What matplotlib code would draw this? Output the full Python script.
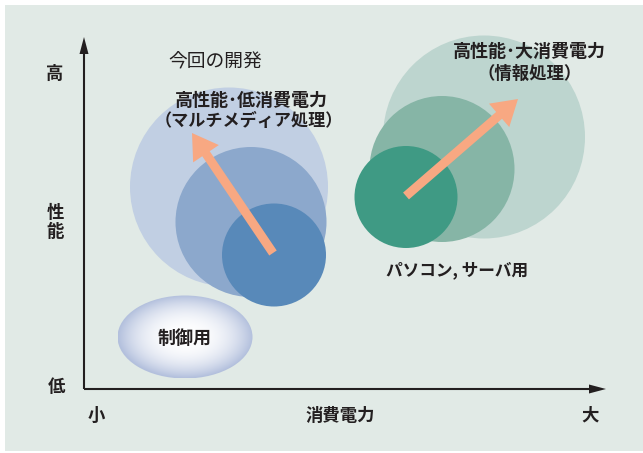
import numpy as np
import matplotlib
matplotlib.use("Agg")
import matplotlib.pyplot as plt
from matplotlib.patches import Ellipse, FancyArrow, Rectangle

plt.rcParams['font.family'] = ['Noto Sans CJK JP', 'DejaVu Sans']

# ---- data (pixel-space diagram) ----
blue_centers = [(229, 187), (251, 222), (274, 255)]
blue_sizes = [(198, 199), (151, 150), (104, 103)]
blue_colors = ['#C1CFE3', '#8CA8CC', '#5889B9']

green_centers = [(484, 137), (442, 169), (406, 197)]
green_sizes = [(202, 203), (145, 146), (103, 102)]
green_colors = ['#BDD5CF', '#86B5A6', '#3F9A84']

ctrl_center = (185, 337)
ctrl_size = (135, 83)

arrow_blue = [(273, 253), (192, 133)]
arrow_green = [(406, 196), (518, 99)]
arrow_color = '#F8A882'

labels = [
    ("高", 55, 74, 'bold', 12.5),
    ("性", 55, 213, 'bold', 12.5),
    ("能", 55, 232, 'bold', 12.5),
    ("低", 56, 387, 'bold', 12.5),
    ("小", 96, 416, 'bold', 12.5),
    ("消費電力", 340, 416, 'bold', 12.5),
    ("大", 590, 416, 'bold', 12.5),
    ("今回の開発", 215, 62, 'normal', 13.5),
    ("高性能･低消費電力", 251, 100, 'bold', 13),
    ("（マルチメディア処理）", 249, 121, 'bold', 12.3),
    ("高性能･大消費電力", 529, 51, 'bold', 13),
    ("（情報処理）", 530, 74, 'bold', 12.5),
    ("パソコン, サーバ用", 457, 270, 'bold', 12),
    ("制御用", 185, 338, 'bold', 13),
]

W, H = 643, 453
fig = plt.figure(figsize=(W / 100, H / 100), dpi=100)
ax = fig.add_axes([0, 0, 1, 1])
ax.set_xlim(0, W)
ax.set_ylim(H, 0)
ax.axis('off')

ax.add_patch(Rectangle((5, 5), W - 5, H - 7, facecolor='#E1EAE6', edgecolor='none', zorder=0))

for (c, s, col) in zip(blue_centers, blue_sizes, blue_colors):
    ax.add_patch(Ellipse(c, s[0], s[1], facecolor=col, edgecolor='none', zorder=2))
for (c, s, col) in zip(green_centers, green_sizes, green_colors):
    ax.add_patch(Ellipse(c, s[0], s[1], facecolor=col, edgecolor='none', zorder=2))

# radial gradient ellipse
cx, cy = ctrl_center
ew, eh = ctrl_size
xs = np.linspace(cx - ew / 2, cx + ew / 2, 200)
ys = np.linspace(cy - eh / 2, cy + eh / 2, 150)
X, Y = np.meshgrid(xs, ys)
r = np.sqrt(((X - cx) / (ew / 2)) ** 2 + ((Y - cy) / (eh / 2)) ** 2)
r = np.clip(r, 0, 1)
t = r ** 2.4
edge = np.array([0xB3, 0xC0, 0xDD]) / 255.0
img = np.ones((len(ys), len(xs), 3)) * (1 - t[..., None]) + edge * t[..., None]
el = Ellipse(ctrl_center, ew, eh, facecolor='none', edgecolor='none')
ax.add_patch(el)
im = ax.imshow(img, extent=(xs[0], xs[-1], ys[-1], ys[0]), zorder=2, interpolation='bilinear')
im.set_clip_path(el)
ax.set_xlim(0, W)
ax.set_ylim(H, 0)

for a in (arrow_blue, arrow_green):
    (x0, y0), (x1, y1) = a
    ax.add_patch(FancyArrow(x0, y0, x1 - x0, y1 - y0, width=9, head_width=31,
                            head_length=25, length_includes_head=True,
                            facecolor=arrow_color, edgecolor='none', zorder=4))

# axes arrows
ax.plot([84, 84], [389, 50], color='#231F20', lw=1.5, zorder=5, solid_capstyle='butt')
ax.plot([84, 594], [389, 389], color='#231F20', lw=1.5, zorder=5, solid_capstyle='butt')
ax.fill([84, 79.5, 88.5], [37, 54, 54], color='#231F20', zorder=5, lw=0)
ax.fill([606, 589, 589], [389, 384.5, 393.5], color='#231F20', zorder=5, lw=0)

for (txt, x, y, wt, fs) in labels:
    ax.text(x, y, txt, ha='center', va='center', fontsize=fs, fontweight=wt,
            color='#231F20', zorder=6)

fig.savefig('out.png', dpi=100)
